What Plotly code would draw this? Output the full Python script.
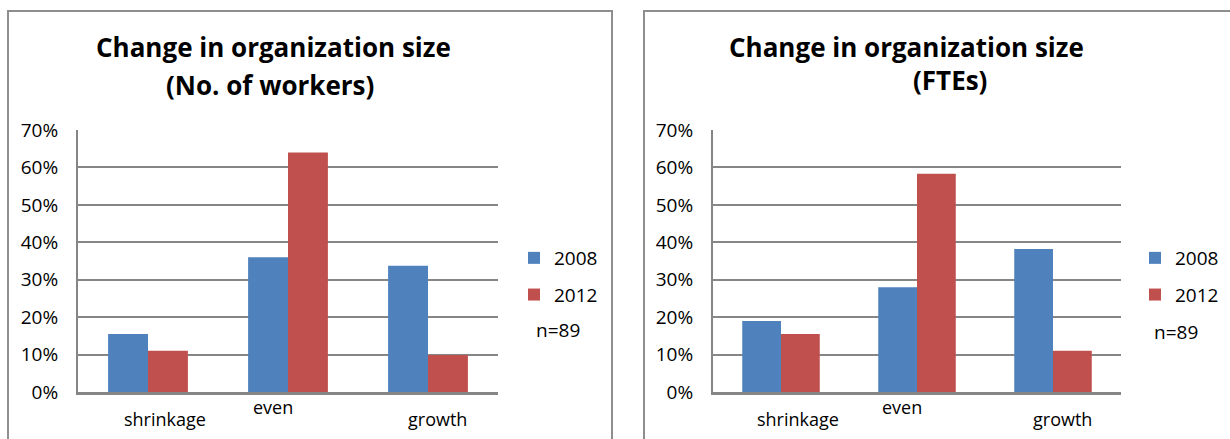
import plotly.graph_objects as go

# data
categories = ["shrinkage", "even", "growth"]
workers_2008 = [0.155, 0.36, 0.337]
workers_2012 = [0.11, 0.64, 0.099]
fte_2008 = [0.19, 0.28, 0.382]
fte_2012 = [0.155, 0.583, 0.11]
years = ["2008", "2012"]
titles = [["Change in organization size", "(No. of workers)"],
          ["Change in organization size", "(FTEs)"]]
sample_note = "n=89"
y_ticks = [0, 0.1, 0.2, 0.3, 0.4, 0.5, 0.6, 0.7]

BLUE = "#4f81bd"
RED = "#c0504d"
GRID = "#868686"
FONT = "Open Sans"
W, H = 1230, 439


def px_x(v):
    return v / W


def px_y(v):
    return 1 - v / H


fig = go.Figure()
series = [
    ("x", "y", "legend", workers_2008, workers_2012),
    ("x2", "y2", "legend2", fte_2008, fte_2012),
]
for xa, ya, leg, s08, s12 in series:
    for name, vals, col in zip(years, [s08, s12], [BLUE, RED]):
        fig.add_bar(x=categories, y=vals, name=name, marker_color=col, marker_line_width=0,
                    xaxis=xa, yaxis=ya, legend=leg, legendgroup=leg + name)

axis_common = dict(showgrid=False, showline=True, linecolor=GRID, linewidth=3,
                   showticklabels=False, ticks="", fixedrange=True, automargin=False)
yaxis_common = dict(range=[0, 0.7], tickvals=y_ticks, tickformat=".0%", showgrid=True,
                    gridcolor=GRID, gridwidth=2, showline=True, linecolor=GRID, linewidth=2,
                    zeroline=False, ticks="", ticklabelstandoff=14, automargin=False,
                    fixedrange=True, tickfont=dict(family=FONT, size=19, color="#000000"))
legend_common = dict(font=dict(family=FONT, size=19, color="#000000"), bgcolor="rgba(0,0,0,0)",
                     traceorder="grouped", tracegroupgap=9, itemwidth=30,
                     xanchor="left", yanchor="top")

fig.update_layout(
    width=W, height=H, margin=dict(l=0, r=0, t=0, b=0, autoexpand=False),
    plot_bgcolor="white", paper_bgcolor="white",
    barmode="group", bargap=0.43, bargroupgap=0,
    font=dict(family=FONT, color="#000000"),
    xaxis=dict(domain=[px_x(78), px_x(498)], anchor="y", **axis_common),
    yaxis=dict(domain=[px_y(392), px_y(130)], anchor="x", **yaxis_common),
    xaxis2=dict(domain=[px_x(713), px_x(1121)], anchor="y2", **axis_common),
    yaxis2=dict(domain=[px_y(392), px_y(130)], anchor="x2", **yaxis_common),
    legend=dict(x=px_x(514), y=px_y(239), **legend_common),
    legend2=dict(x=px_x(1135), y=px_y(239), **legend_common),
)

# panel borders
fig.add_shape(type="rect", xref="paper", yref="paper", x0=px_x(8), x1=px_x(612),
              y0=-0.2, y1=px_y(11), line=dict(color="#8e8e8e", width=2), layer="below")
fig.add_shape(type="rect", xref="paper", yref="paper", x0=px_x(644), x1=1.2,
              y0=-0.2, y1=px_y(11), line=dict(color="#8e8e8e", width=2), layer="below")

# chart titles
title_pos = [[(273, 47), (270, 85)], [(906, 47), (950, 80)]]
for lines, pos in zip(titles, title_pos):
    for text, (cx, cy) in zip(lines, pos):
        fig.add_annotation(text=f"<b>{text}</b>", x=px_x(cx), y=px_y(cy), xref="paper", yref="paper",
                           showarrow=False, xanchor="center", yanchor="middle",
                           font=dict(family=FONT, size=26, color="#000000"))

# staggered category labels
label_shift = [17, -15, 9]
label_y = [419, 407, 419]
for xa in ["x", "x2"]:
    for cat, dx, ly in zip(categories, label_shift, label_y):
        fig.add_annotation(text=cat, x=cat, y=px_y(ly), xref=xa, yref="paper", xshift=dx,
                           showarrow=False, xanchor="center", yanchor="middle",
                           font=dict(family=FONT, size=18, color="#000000"))

# sample size notes
for nx, ny in [(534, 330), (1152, 332)]:
    fig.add_annotation(text=sample_note, x=px_x(nx), y=px_y(ny), xref="paper", yref="paper",
                       showarrow=False, xanchor="left", yanchor="middle",
                       font=dict(family=FONT, size=19, color="#000000"))

# drop the default 8px page margin so the figure sits at the window's corner
fig.write_html("out.html", config={"displayModeBar": False},
               post_script="document.body.style.margin='0';")
